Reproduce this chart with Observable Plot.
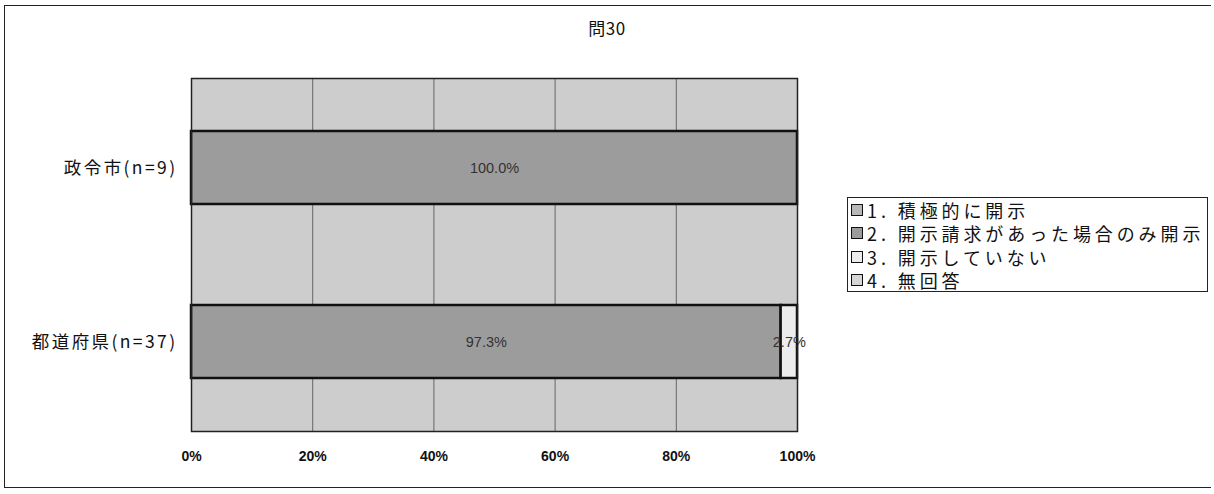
<!DOCTYPE html>
<html>
<head>
<meta charset="utf-8">
<script src="https://cdn.jsdelivr.net/npm/d3@7"></script>
<script src="https://cdn.jsdelivr.net/npm/@observablehq/plot@0.6"></script>
<style>
  body { margin: 0; background: #fff; }
  #wrap { position: relative; width: 1214px; height: 494px; overflow: hidden; font-family: "Noto Sans CJK JP", sans-serif; }
  #frame { position: absolute; left: 4px; top: 5px; width: 1207px; height: 483px; border: 1.5px solid #222; box-sizing: border-box; border-right: none; }
  #title { position: absolute; left: 0; width: 1214px; top: 15px; text-align: center; font-size: 17px; color: #111; letter-spacing: 0.5px; }
  #chart { position: absolute; left: 0; top: 0; }
  #legend { position: absolute; left: 847px; top: 197px; width: 361px; height: 95px; border: 1.5px solid #222; box-sizing: border-box; padding-top: 0px; }
  .row { height: 23.5px; display: flex; align-items: center; font-size: 18px; color: #111; white-space: nowrap; letter-spacing: 3.9px; }
  .sw { width: 10px; height: 10px; border: 1.5px solid #111; margin: 0 4px 0 3px; flex: none; }
  .ylab text { letter-spacing: 2.4px; }
</style>
</head>
<body>
<div id="wrap">
  <div id="frame"></div>
  <div id="chart"></div>
  <div id="title"></div>
  <div id="legend"></div>
</div>
<script>
const title = "問30";
const groups = ["政令市(n=9)", "都道府県(n=37)"];
const seriesNames = ["1. 積極的に開示", "2. 開示請求があった場合のみ開示", "3. 開示していない", "4. 無回答"];
const seriesColors = ["#b8b8b8", "#9c9c9c", "#ececec", "#d6d6d6"];
const values_seireishi = [0, 100.0, 0, 0];
const values_todofuken = [0, 97.3, 2.7, 0];
const xTicks = [0, 20, 40, 60, 80, 100];
const plotBackground = "#cdcdcd";

const groupValues = [values_seireishi, values_todofuken];
const data = [];
groups.forEach((g, gi) => {
  seriesNames.forEach((s, si) => {
    data.push({group: g, series: s, value: groupValues[gi][si]});
  });
});

const narrow = "'Liberation Sans Narrow', 'Liberation Sans', Arial, sans-serif";

const chart = Plot.plot({
  width: 1214,
  height: 494,
  marginLeft: 191,
  marginRight: 417,
  marginTop: 78,
  marginBottom: 63,
  style: {background: "transparent", overflow: "visible", color: "#111"},
  x: {domain: [0, 100]},
  y: {domain: groups, paddingInner: 0.58, paddingOuter: 0.3},
  color: {domain: seriesNames, range: seriesColors},
  marks: [
    Plot.frame({fill: plotBackground, stroke: null}),
    Plot.ruleX(xTicks.slice(1, -1), {stroke: "#666", strokeWidth: 1}),
    Plot.barX(data.filter(d => d.value > 0), {
      x: "value", y: "group", fill: "series", order: seriesNames,
      stroke: "#111", strokeWidth: 2.5, inset: 0
    }),
    Plot.text(data.filter(d => d.value > 0), Plot.stackX({
      x: "value", y: "group", z: "series", order: seriesNames,
      text: d => d.value.toFixed(1) + "%",
      fill: "#333", fontSize: 14.5, fontFamily: narrow
    })),
    Plot.frame({stroke: "#222", strokeWidth: 1.5}),
    Plot.axisX({
      ticks: xTicks, tickFormat: d => d + "%", tickSize: 0, tickPadding: 20,
      fontSize: 14, fontFamily: narrow, fontWeight: "bold", label: null
    }),
    Plot.axisY({
      tickSize: 0, tickPadding: 14, fontSize: 17.5, className: "ylab",
      fontFamily: "'Noto Sans CJK JP', sans-serif", label: null
    })
  ]
});
document.getElementById("chart").appendChild(chart);

document.getElementById("title").textContent = title;
const legend = document.getElementById("legend");
seriesNames.forEach((s, i) => {
  const row = document.createElement("div");
  row.className = "row";
  const sw = document.createElement("span");
  sw.className = "sw";
  sw.style.background = seriesColors[i];
  const t = document.createElement("span");
  t.textContent = s;
  row.appendChild(sw);
  row.appendChild(t);
  legend.appendChild(row);
});
</script>
</body>
</html>
